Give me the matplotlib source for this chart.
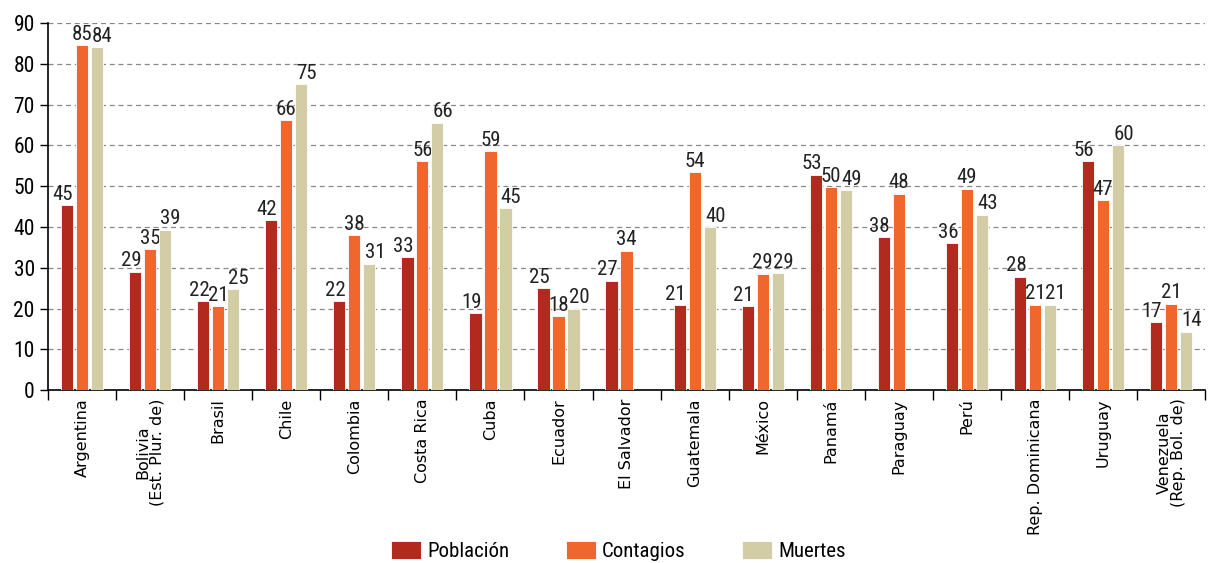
import matplotlib.pyplot as plt
from matplotlib import font_manager
import numpy as np

paises = ["Argentina", "Bolivia\n(Est. Plur. de)", "Brasil", "Chile", "Colombia",
          "Costa Rica", "Cuba", "Ecuador", "El Salvador", "Guatemala", "México",
          "Panamá", "Paraguay", "Perú", "Rep. Dominicana", "Uruguay",
          "Venezuela\n(Rep. Bol. de)"]

poblacion = [45.3, 29.0, 21.8, 41.7, 21.8, 32.6, 18.9, 25.0, 26.8, 20.8, 20.6,
             52.8, 37.5, 36.0, 27.8, 56.2, 16.6]
contagios = [84.6, 34.6, 20.6, 66.2, 38.0, 56.2, 58.6, 18.1, 34.2, 53.5, 28.6,
             49.7, 48.2, 49.4, 21.0, 46.6, 21.2]
muertes = [84.1, 39.3, 24.7, 75.0, 31.0, 65.6, 44.6, 20.0, np.nan, 40.0, 28.7,
           49.0, np.nan, 43.0, 21.0, 60.0, 14.3]

series = [("Población", poblacion, "#b22a1e"),
          ("Contagios", contagios, "#f0672e"),
          ("Muertes", muertes, "#d3cda5")]

# busco una fuente angosta; si no hay, DejaVu Sans condensada
instaladas = {f.name for f in font_manager.fontManager.ttflist}
angosta = None
for nombre in ["Liberation Sans Narrow", "Roboto Condensed", "Open Sans Condensed",
               "Arial Narrow"]:
    if nombre in instaladas:
        angosta = nombre
        break
if angosta is None:
    fuente_num = {"family": "DejaVu Sans", "stretch": "condensed"}
    tam_num = 12.5
else:
    fuente_num = {"family": angosta}
    tam_num = 15


def poner_fuente(t):
    t.set_family(fuente_num["family"])
    if "stretch" in fuente_num:
        t.set_stretch(fuente_num["stretch"])


fig = plt.figure(figsize=(12.08, 5.63), dpi=100)
ax = fig.add_axes([0.0397, 0.307, 0.958, 0.652])

x = np.arange(len(paises))
ancho = 0.18
corrimiento = [-3, 0, 4]  # en puntos, para que no se pisen las etiquetas
for i, (nombre, vals, color) in enumerate(series):
    v = np.array(vals, dtype=float)
    barras = ax.bar(x + (i - 1) * (ancho + 0.04), np.nan_to_num(v), ancho,
                    color=color, edgecolor="white", linewidth=0.6, label=nombre,
                    zorder=3)
    for xb, val in zip(x + (i - 1) * (ancho + 0.04), v):
        if np.isnan(val):
            continue
        t = ax.annotate(f"{val:.0f}", (xb, val), xytext=(corrimiento[i], 1),
                        textcoords="offset points", ha="center", va="bottom",
                        fontsize=tam_num, color="#222222")
        poner_fuente(t)

ax.set_xlim(-0.5, len(paises) - 0.5)
ax.set_ylim(0, 90)
ax.set_yticks(range(0, 91, 10))
ax.yaxis.grid(True, linestyle=(0, (4, 3)), color="#888888", linewidth=0.9, zorder=0)
ax.set_axisbelow(True)

ax.set_xticks(x)
ax.set_xticklabels(paises, rotation=90, va="top", ha="center", fontsize=11.5,
                   family="DejaVu Sans", linespacing=0.95)
ax.tick_params(axis="x", which="major", length=0, pad=6)
ax.set_xticks(np.arange(-0.5, len(paises), 1), minor=True)
ax.tick_params(axis="x", which="minor", length=7, width=1, color="black")
ax.tick_params(axis="y", length=6, width=1, labelsize=tam_num + 0.5)
for t in ax.get_yticklabels():
    poner_fuente(t)

for s in ["top", "right"]:
    ax.spines[s].set_visible(False)
ax.spines["left"].set_linewidth(1.2)
ax.spines["bottom"].set_linewidth(1.2)

leg = fig.legend(loc="lower center", bbox_to_anchor=(0.512, -0.03), ncol=3,
                 frameon=False, handlelength=1.45, handleheight=0.9,
                 handletextpad=0.3, columnspacing=2.7,
                 prop={"size": tam_num, **fuente_num})

fig.savefig("out.png", dpi=100)
